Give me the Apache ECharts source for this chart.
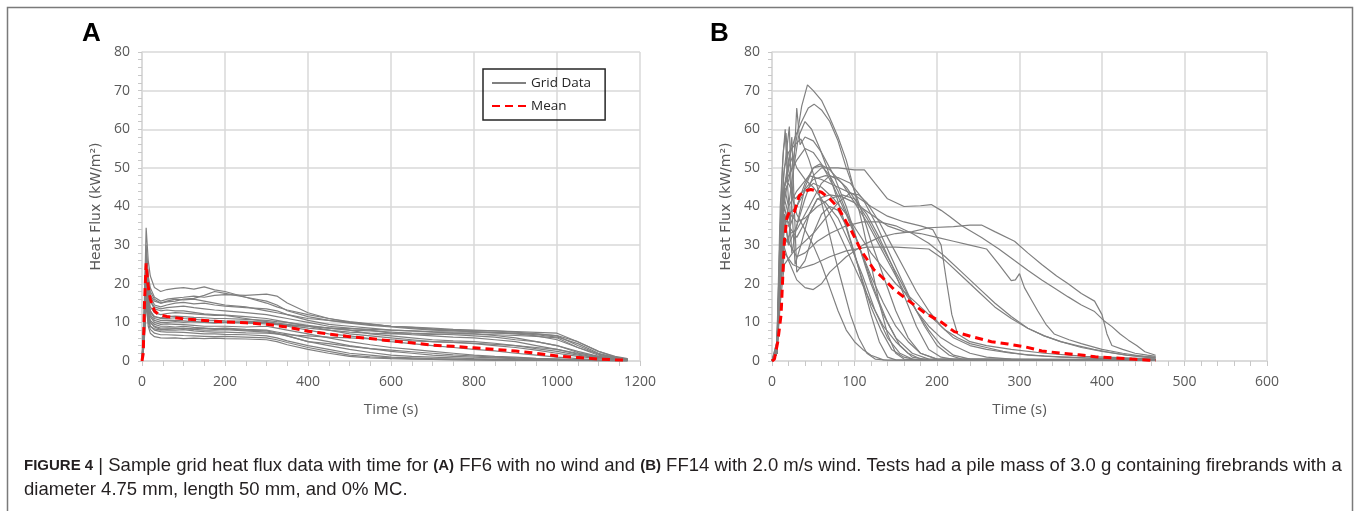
<!DOCTYPE html>
<html>
<head>
<meta charset="utf-8">
<script src="https://cdn.jsdelivr.net/npm/echarts@6/dist/echarts.min.js"></script>
<style>
html,body{margin:0;padding:0;background:#fff;}
#chart{width:1356px;height:511px;}
</style>
</head>
<body>
<div id="chart"></div>
<script>
// ---------- Panel A (FF6, no wind) ----------
const timeA = [0, 5, 10, 15, 20, 30, 45, 60, 80, 100, 125, 150, 175, 200, 250, 300, 325, 350, 400, 450, 500, 550, 600, 650, 700, 750, 800, 850, 900, 950, 1000, 1050, 1100, 1140, 1170];
const gridA = [
  [0, 12, 34.5, 26, 22, 19, 18, 18.5, 18.8, 19, 18.6, 19.2, 18.4, 18, 16.5, 15, 14, 13.2, 12, 11, 10.2, 9.6, 9, 8.6, 8.2, 8, 7.9, 7.8, 7.6, 7.4, 7.2, 5, 2.5, 1.2, 0.6],
  [0, 10, 28, 22, 19, 16.5, 15.5, 16, 16.3, 16.5, 16.8, 16.5, 17, 17.2, 17, 17.3, 16.8, 15, 12.5, 11, 10, 9.5, 9, 8.7, 8.3, 8, 7.5, 7.3, 7, 6.5, 5.5, 3.5, 1.8, 0.9, 0.5],
  [0, 9, 26, 20, 17, 15.5, 15, 15.5, 16, 15.8, 16, 15.5, 15, 14.5, 14, 13, 12.5, 12, 11, 10.5, 10, 9.5, 9, 8.8, 8.5, 8.2, 8, 7.8, 7.5, 7, 6.5, 4, 1.8, 0.8, 0.4],
  [0, 11, 30, 21, 17, 14.5, 14, 14.5, 15, 15.2, 14.8, 15, 14.5, 14.2, 13.8, 13.5, 13, 12, 10.5, 9.5, 9, 8.5, 8, 7.8, 7.5, 7.2, 7, 6.6, 6, 5, 4, 2.5, 1.2, 0.6, 0.3],
  [0, 8, 24, 18, 15.5, 14, 13.5, 13.8, 14, 14.2, 13.8, 13.5, 13.2, 13, 12.5, 12, 11.5, 11, 10, 9, 8.5, 8, 7.2, 6.8, 6.5, 6.2, 6, 5.5, 5, 4, 3, 1.8, 0.9, 0.5, 0.3],
  [0, 9, 25, 17, 14, 12.5, 12, 12.3, 12.5, 12.4, 12.2, 12, 11.8, 11.9, 11.5, 11, 10.5, 10, 9, 8, 7, 6.5, 6, 5.5, 5, 4.8, 4.5, 4, 3.5, 2.8, 2, 1.2, 0.6, 0.3, 0.2],
  [0, 7, 22, 16, 13, 11.5, 11, 11, 11.2, 11, 10.8, 10.6, 10.5, 10.4, 10.3, 10, 9.5, 9, 8, 7, 6.5, 5.8, 5, 4.5, 4, 3.5, 3, 2.6, 2, 1.5, 1, 0.6, 0.3, 0.2, 0.1],
  [0, 8, 23, 15, 12, 10.5, 10, 10, 10.2, 10, 10.2, 10, 9.8, 10, 9.8, 9.6, 9.4, 9.2, 9, 8.5, 8, 7.8, 7.5, 7.2, 7, 6.8, 6.5, 6.2, 5.5, 5, 4, 2.2, 1, 0.5, 0.3],
  [0, 6, 20, 14, 11.5, 10, 9.5, 9.6, 9.5, 9.4, 9.2, 9, 9, 9, 8.8, 9, 8.5, 8, 7, 6, 5, 4.2, 3.5, 3, 2.5, 2, 1.5, 1.2, 1, 0.7, 0.5, 0.3, 0.2, 0.1, 0.1],
  [0, 7, 21, 13, 10.5, 9.5, 9, 9, 8.8, 9, 8.7, 8.5, 8.4, 8.5, 8.2, 8, 7.5, 7, 6, 5, 4, 3.2, 2.5, 2, 1.5, 1.2, 1, 0.8, 0.6, 0.5, 0.4, 0.3, 0.2, 0.1, 0.1],
  [0, 6, 19, 12, 10, 9, 8.5, 8.6, 8.5, 8.4, 8.2, 8, 8, 8.1, 7.8, 7.5, 7, 6.5, 5, 4, 3, 2.2, 1.5, 1.2, 1, 0.8, 0.6, 0.5, 0.4, 0.3, 0.3, 0.2, 0.1, 0.1, 0.1],
  [0, 7, 20, 12.5, 10, 8.8, 8.2, 8, 8, 8.1, 7.8, 7.6, 7.5, 7.5, 7.3, 7.2, 7, 6.8, 6.5, 6.2, 6, 5.7, 5.5, 5.2, 5, 4.8, 4.6, 4.3, 4, 3.5, 3, 2, 1.2, 0.6, 0.3],
  [0, 5, 17, 11, 9, 8, 7.6, 7.5, 7.5, 7.4, 7.2, 7, 7, 6.9, 6.8, 6.5, 6, 5.2, 4, 3, 2, 1.5, 1, 0.8, 0.6, 0.5, 0.4, 0.3, 0.3, 0.2, 0.2, 0.1, 0.1, 0.1, 0.1],
  [0, 5, 16, 10, 8.2, 7.2, 6.8, 6.8, 6.7, 6.6, 6.5, 6.4, 6.3, 6.4, 6.2, 6, 5.5, 4.8, 3.5, 2.5, 1.5, 1.1, 0.8, 0.6, 0.5, 0.4, 0.3, 0.3, 0.2, 0.2, 0.2, 0.2, 0.1, 0.1, 0.1],
  [0, 4, 15, 9, 7.2, 6.3, 6, 5.9, 6, 5.8, 5.9, 5.8, 5.9, 5.8, 5.7, 5.5, 5, 4.2, 3, 2, 1.2, 0.8, 0.6, 0.5, 0.4, 0.3, 0.3, 0.2, 0.2, 0.2, 0.1, 0.1, 0.1, 0.1, 0.1],
  [0, 8, 24, 16, 13, 11, 10.5, 10.6, 10.5, 10.4, 10.2, 10, 10, 10.1, 10, 10, 9.6, 9.2, 8.5, 8, 7.5, 7.2, 7, 7, 6.9, 7, 7, 6.8, 6.6, 6.4, 6, 3.5, 1.5, 0.7, 0.4],
  [0, 9, 27, 19, 15.5, 13.5, 13, 13.2, 13, 13, 12.6, 12.2, 12, 11.8, 11, 10.2, 9.8, 9.5, 9, 8.6, 8.4, 8.2, 8, 7.8, 7.6, 7.5, 7.5, 7.3, 7.1, 7, 6.6, 5, 2.5, 1, 0.5],
  [0, 7, 22, 15, 12.5, 11.5, 11.2, 11.5, 11.6, 11.5, 11.3, 11.2, 11, 11, 10.8, 10.5, 10.2, 10, 9.2, 8.5, 8, 7, 6.5, 6, 5.5, 5.2, 5, 4.6, 4, 3.2, 2.5, 1.5, 0.8, 0.4, 0.2],
  [0, 10, 29, 21, 18, 16, 15, 15.3, 15.5, 16, 16.2, 17, 18, 17.5, 16.5, 15.5, 14.5, 13, 11.5, 10.5, 9.8, 9.2, 8.8, 8.4, 8, 7.8, 7.6, 7.4, 7.2, 6.8, 6.2, 4.5, 2, 0.9, 0.5],
  [0, 5, 18, 11, 9, 8.3, 8, 8.2, 8.4, 8.5, 8.3, 8.5, 8.2, 8.3, 8, 7.8, 7.2, 6.5, 5, 4.5, 3.8, 3.2, 2.8, 2.4, 2, 1.6, 1.3, 1, 0.8, 0.6, 0.5, 0.3, 0.2, 0.1, 0.1]
];
const meanA = [[0,0],[3,2],[6,15],[10,25.3],[14,20],[20,16],[30,13],[40,12],[60,11.5],[100,10.9],[150,10.5],[200,10.1],[250,9.9],[300,9.5],[350,8.8],[400,7.7],[450,7],[500,6.3],[550,5.8],[600,5.2],[650,4.7],[700,4.1],[750,3.8],[800,3.4],[850,3],[900,2.6],[950,2],[1000,1.3],[1050,0.9],[1100,0.5],[1140,0.3],[1170,0.2]];

// ---------- Panel B (FF14, 2.0 m/s wind) ----------
const gridB = [
  [[0,0],[6,2],[10,20],[14,40],[18,45],[24,50],[30,58],[36,66],[43,71.5],[50,70],[60,67.5],[70,63],[80,58],[90,52],[100,44],[110,35],[120,25],[130,15],[140,7],[150,2],[160,0.5],[180,0.2],[465,0.2]],
  [[0,0],[6,3],[10,25],[15,45],[20,52],[28,58],[36,62],[44,65.5],[51,66.5],[60,65],[70,62],[80,57],[90,50],[100,44],[110,38],[120,31],[135,22],[150,13],[165,6],[180,2],[200,0.5],[465,0.3]],
  [[0,0],[6,2],[10,22],[15,38],[20,30],[25,45],[30,65.5],[34,56],[40,58],[50,57],[60,54],[75,48],[90,40],[105,30],[120,20],[135,12],[150,6],[170,2],[190,0.5],[465,0.2]],
  [[0,0],[6,5],[10,35],[13,52],[16,60],[19,45],[24,28],[30,35],[40,45],[50,50],[60,50.5],[70,48],[80,44],[95,36],[110,27],[125,18],[140,10],[155,4],[170,1],[190,0.3],[465,0.2]],
  [[0,0],[6,3],[10,30],[14,48],[18,55],[21,60.7],[24,40],[28,25],[35,30],[45,38],[55,42],[65,41],[80,37],[95,30],[110,22],[125,13],[140,6],[155,2],[170,0.5],[465,0.2]],
  [[0,0],[6,2],[10,28],[15,45],[20,50],[24,58],[27,40],[30,23],[40,26],[50,33],[60,38],[70,40],[80,39],[90,35],[100,28],[110,20],[120,12],[130,5],[140,1],[150,0.3],[465,0.2]],
  [[0,0],[6,3],[10,22],[14,30],[20,26],[30,21],[40,19],[50,18.5],[60,20],[70,23],[90,27],[110,30],[130,32],[150,33],[170,33.5],[190,34.5],[220,34.8],[240,35.2],[254,35.2],[270,33.5],[294,31],[310,28],[327,25],[345,22],[359,20],[375,17.5],[391,15.5],[400,12],[406,7],[412,4],[425,3],[440,2],[455,1.5],[465,1.2]],
  [[0,0],[6,2],[10,25],[15,38],[20,30],[30,35],[40,42],[50,48],[60,50],[80,50],[100,49.5],[112,49.5],[125,46],[140,42],[160,40],[180,40.2],[193,40.5],[205,39],[215,37.5],[230,35],[254,32],[275,29],[294,26],[310,23.5],[327,21],[345,18.5],[359,16.6],[375,14.5],[391,12.8],[402,10.5],[412,8.9],[422,7],[432,5.4],[442,4],[452,2.4],[465,1.5]],
  [[0,0],[6,3],[10,28],[15,40],[20,35],[30,32],[40,36],[55,42],[70,43],[85,42.5],[100,41],[120,38],[140,35],[160,33.5],[180,33],[200,32],[220,31],[240,30],[260,29],[275,25],[290,20.8],[295,21],[300,22.6],[306,19],[314,16],[322,13],[332,9.5],[342,7],[360,5.5],[375,4.5],[400,3],[425,2],[450,1.2],[465,0.8]],
  [[0,0],[6,2],[10,20],[15,35],[20,40],[30,44],[45,48],[60,47],[80,45],[100,43],[120,40],[140,37.5],[160,36],[180,35],[195,34],[205,30],[212,20],[218,12],[225,7],[240,5],[260,4],[290,3],[330,2],[380,1.2],[430,0.8],[465,0.5]],
  [[0,0],[6,3],[10,30],[15,45],[20,48],[30,52],[40,55],[50,54],[60,51],[75,45],[90,38],[105,30],[120,22],[135,15],[150,9],[165,5],[180,2],[200,0.5],[465,0.2]],
  [[0,0],[6,4],[10,35],[15,50],[20,54],[28,56],[35,57.5],[45,52],[55,45],[65,37],[75,28],[85,20],[95,12],[105,6],[115,2],[125,0.5],[140,0.2],[465,0.2]],
  [[0,0],[6,5],[10,40],[14,55],[17,59],[20,50],[25,42],[30,38],[40,34],[50,30],[60,25],[70,19],[80,13],[90,8],[100,5],[110,3],[120,1.5],[135,0.3],[465,0.1]],
  [[0,0],[6,2],[10,18],[15,30],[22,33],[30,34],[40,38],[50,42],[60,46],[70,48],[80,47],[90,45],[100,42],[115,37],[130,31],[145,25],[160,19],[175,13],[190,8],[205,4],[220,1.5],[240,0.5],[465,0.3]],
  [[0,0],[6,2],[10,15],[15,25],[25,28],[35,30],[50,33],[65,37],[80,41],[95,43.5],[105,43],[115,41],[130,36],[145,30],[160,24],[175,18],[190,13],[205,9],[220,6],[240,4],[260,3],[290,2],[330,1.3],[380,0.8],[465,0.5]],
  [[0,0],[6,3],[10,25],[15,38],[22,35],[30,40],[40,46],[50,50],[58,51],[70,49.5],[85,46],[100,41],[115,36],[130,30],[145,24],[160,18],[175,13],[190,9],[205,6],[220,4],[240,2],[260,1],[290,0.5],[465,0.3]],
  [[0,0],[6,2],[10,20],[15,32],[22,30],[30,27],[40,28],[55,31],[70,33],[90,35],[110,36],[130,36],[150,35],[170,33],[190,30.5],[210,27],[230,23],[250,19],[270,15],[290,11.5],[310,8.5],[330,6.5],[350,5],[370,4],[390,3],[410,2.2],[430,1.5],[450,1],[465,0.8]],
  [[0,0],[6,3],[10,28],[15,42],[20,38],[30,40],[40,44],[50,46],[60,45],[75,42],[90,38],[105,33],[120,28],[135,24],[150,20],[165,17],[180,14],[195,11],[210,8],[225,6],[240,4.5],[260,3.5],[280,2.5],[310,1.5],[350,1],[400,0.6],[465,0.4]],
  [[0,0],[6,4],[10,30],[15,45],[20,40],[25,48],[32,58],[40,62],[48,60],[58,55],[70,48],[82,40],[95,31],[108,22],[120,14],[132,8],[145,3],[160,1],[175,0.3],[465,0.2]],
  [[0,0],[6,2],[10,18],[15,28],[25,25],[35,24],[50,25],[70,27],[90,28.5],[115,29.5],[150,29.5],[190,29],[210,26],[230,22],[250,18],[270,14],[290,11],[310,8.5],[330,6.5],[350,5],[375,3.5],[400,2.5],[430,1.5],[465,1]],
  [[0,0],[6,3],[10,30],[15,45],[20,50],[25,53],[30,50],[40,47],[50,45],[60,42],[75,36],[90,29],[105,22],[120,15],[135,9],[150,5],[165,2],[180,0.5],[465,0.2]],
  [[0,0],[6,2],[10,22],[15,35],[22,38],[30,36],[40,37],[55,40],[70,42],[85,43],[100,42],[115,38],[130,32],[145,25],[160,17],[175,9],[190,3],[205,1],[220,0.4],[465,0.2]],
  [[0,0],[6,3],[10,28],[15,44],[20,46],[28,42],[38,44],[50,47],[65,48],[80,47.5],[95,46],[110,42],[125,36],[140,29],[155,22],[170,15],[185,9],[200,4],[215,1.5],[230,0.5],[465,0.2]]
];
const meanB = [[0,0],[3,0.5],[7,5],[11,12],[15,31],[18,37],[21,38.5],[27,38.5],[33,42.8],[40,44],[47,44.4],[55,44],[60,43.7],[70,42],[80,39.8],[90,36],[96,33.8],[108,28.6],[124,23.5],[132,22],[148,18.5],[165,15.7],[185,12.5],[205,10.1],[221,7.6],[242,6.3],[266,5.0],[286,4.4],[306,3.7],[327,2.6],[351,2.0],[372,1.6],[392,1.1],[416,0.8],[436,0.5],[457,0.2],[465,0.1]];

// ---------- Text ----------
const yAxisTitle = 'Heat Flux (kW/m\u00b2)';
const xAxisTitle = 'Time (s)';
const panelLabels = ['A', 'B'];
const legendNames = ['Grid Data', 'Mean'];
// caption line 1 as [text, bold] pieces
const captionPieces1 = [['FIGURE 4', 1], [' | Sample grid heat flux data with time for ', 0], ['(A)', 1], [' FF6 with no wind and ', 0], ['(B)', 1], [' FF14 with 2.0 m/s wind. Tests had a pile mass of 3.0 g containing firebrands with a', 0]];
const captionLine2 = 'diameter 4.75 mm, length 50 mm, and 0% MC.';

const GRID_COLOR = '#d9d9d9';
const LABEL_COLOR = '#595959';
const LINE_GRAY = '#808080';

function xAxisCfg(gridIndex, max, interval, minorSplit) {
  return {
    type: 'value', gridIndex, min: 0, max, interval,
    name: xAxisTitle, nameLocation: 'middle', nameGap: 41,
    nameTextStyle: {fontFamily: 'Open Sans', fontSize: 15, color: LABEL_COLOR},
    axisLine: {show: true, lineStyle: {color: GRID_COLOR, width: 1.5}},
    axisTick: {show: true, length: 5, lineStyle: {color: '#c8c8c8'}},
    minorTick: {show: true, splitNumber: minorSplit, length: 5, lineStyle: {color: '#c8c8c8'}},
    axisLabel: {margin: 14, fontFamily: 'Open Sans', fontSize: 14, color: LABEL_COLOR, formatter: v => String(v)},
    splitLine: {show: true, lineStyle: {color: GRID_COLOR, width: 1.5}}
  };
}
function yAxisCfg(gridIndex) {
  return {
    type: 'value', gridIndex, min: 0, max: 80, interval: 10,
    name: yAxisTitle, nameLocation: 'middle', nameGap: 39, nameRotate: 90,
    nameTextStyle: {fontFamily: 'DejaVu Sans', fontSize: 14, color: LABEL_COLOR},
    axisLine: {show: true, lineStyle: {color: GRID_COLOR, width: 1.5}},
    axisTick: {show: true, length: 4, lineStyle: {color: '#c8c8c8'}},
    minorTick: {show: true, splitNumber: 5, length: 4, lineStyle: {color: '#c8c8c8'}},
    axisLabel: {margin: 12, fontFamily: 'Open Sans', fontSize: 14, color: LABEL_COLOR},
    splitLine: {show: true, lineStyle: {color: GRID_COLOR, width: 1.5}}
  };
}

const series = [];
gridA.forEach(vals => {
  series.push({
    type: 'line', name: legendNames[0], xAxisIndex: 0, yAxisIndex: 0,
    data: timeA.map((t, i) => [t, vals[i]]),
    symbol: 'none', showSymbol: false, silent: true,
    lineStyle: {color: LINE_GRAY, width: 1.2}, itemStyle: {color: LINE_GRAY}
  });
});
gridB.forEach(pts => {
  series.push({
    type: 'line', name: legendNames[0], xAxisIndex: 1, yAxisIndex: 1,
    data: pts, symbol: 'none', showSymbol: false, silent: true,
    lineStyle: {color: LINE_GRAY, width: 1.2}, itemStyle: {color: LINE_GRAY}
  });
});
[[meanA, 0], [meanB, 1]].forEach(([pts, idx]) => {
  series.push({
    type: 'line', name: legendNames[1], xAxisIndex: idx, yAxisIndex: idx,
    data: pts, symbol: 'none', showSymbol: false, silent: true, z: 5,
    lineStyle: {color: '#ff0000', width: 3, type: [8, 5]}, itemStyle: {color: '#ff0000'}
  });
});

const captionText =
  captionPieces1.map(p => '{' + (p[1] ? 'b' : 'r') + '|' + p[0] + '}').join('') +
  '\n{r|' + captionLine2 + '}';

const chart = echarts.init(document.getElementById('chart'), null, {renderer: 'canvas'});
chart.setOption({
  animation: false,
  backgroundColor: '#ffffff',
  grid: [
    {left: 142, top: 52, width: 498, height: 309},
    {left: 772, top: 52, width: 495, height: 309}
  ],
  xAxis: [xAxisCfg(0, 1200, 200, 4), xAxisCfg(1, 600, 100, 5)],
  yAxis: [yAxisCfg(0), yAxisCfg(1)],
  legend: {
    data: legendNames.map(n => ({name: n})),
    orient: 'vertical', left: 483, top: 69,
    padding: [7, 14, 7, 8],
    borderColor: '#262626', borderWidth: 1.5,
    itemWidth: 34, itemHeight: 12, itemGap: 9,
    selectedMode: false,
    itemStyle: {opacity: 0},
    textStyle: {fontFamily: 'Open Sans', fontSize: 13.5, color: '#262626'}
  },
  graphic: [
    {type: 'rect', shape: {x: 7.5, y: 7.5, width: 1345, height: 530}, style: {fill: 'none', stroke: '#7a7a7a', lineWidth: 1.5}, silent: true},
    {type: 'text', left: 82, top: 21, style: {text: panelLabels[0], font: 'bold 26px "Liberation Sans", Arial, sans-serif', fill: '#000'}},
    {type: 'text', left: 710, top: 21, style: {text: panelLabels[1], font: 'bold 26px "Liberation Sans", Arial, sans-serif', fill: '#000'}},
    {type: 'text', left: 24, top: 454, style: {
      text: captionText,
      fontFamily: 'Liberation Sans', fontSize: 18.5, fill: '#231f20', lineHeight: 24,
      rich: {
        r: {fontFamily: 'Liberation Sans', fontSize: 18.5, fill: '#231f20', lineHeight: 24},
        b: {fontFamily: 'Liberation Sans', fontSize: 15, fontWeight: 'bold', fill: '#231f20', lineHeight: 24}
      }
    }}
  ],
  series
});
</script>
</body>
</html>
